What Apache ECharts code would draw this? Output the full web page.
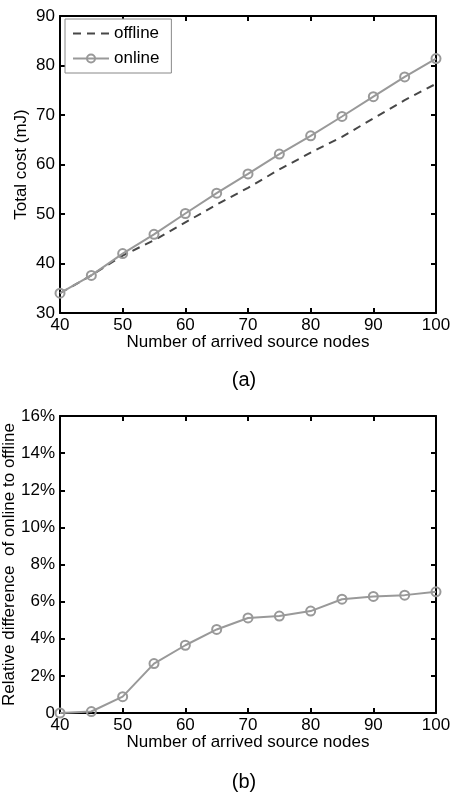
<!DOCTYPE html>
<html>
<head>
<meta charset="utf-8">
<title>Total cost and relative difference</title>
<script src="https://cdn.jsdelivr.net/npm/echarts@6/dist/echarts.min.js"></script>
<style>
  html, body { margin: 0; padding: 0; background: #fff; }
  #chart { width: 456px; height: 792px; }
</style>
</head>
<body>
<div id="chart"></div>
<script>
// Number of arrived source nodes
const nodes = [40, 45, 50, 55, 60, 65, 70, 75, 80, 85, 90, 95, 100];
// Total cost (mJ)
const offlineCost = [34.0, 37.6, 41.6, 44.7, 48.3, 51.9, 55.3, 59.0, 62.4, 65.6, 69.3, 73.0, 76.3];
const onlineCost  = [34.0, 37.6, 42.0, 45.9, 50.1, 54.2, 58.1, 62.1, 65.8, 69.7, 73.7, 77.7, 81.4];
// Relative difference of online to offline (%)
const relDiff = [0.0, 0.08, 0.88, 2.66, 3.65, 4.5, 5.12, 5.22, 5.49, 6.13, 6.28, 6.35, 6.53];

const xTicks = { min: 40, max: 100, interval: 10 };
const costTicks = { min: 30, max: 90, interval: 10 };
const diffTicks = { min: 0, max: 16, interval: 2 };

const FONT = 'Liberation Sans, Arial, Helvetica, sans-serif';
const FS = 17;
const pairs = (xs, ys) => xs.map((x, i) => [x, ys[i]]);

const lineAxis = { show: true, onZero: false, lineStyle: { color: '#000', width: 2 } };
const tickIn = { show: true, inside: true, length: 5, lineStyle: { color: '#000', width: 2 } };

function xAxes(gridIndex) {
  return [
    {
      type: 'value', gridIndex, position: 'bottom', ...xTicks,
      axisLine: lineAxis, axisTick: tickIn, splitLine: { show: false },
      axisLabel: { color: '#000', fontSize: FS, fontFamily: FONT, margin: 4 },
      name: 'Number of arrived source nodes', nameLocation: 'middle', nameGap: 21,
      nameMoveOverlap: false,
      nameTextStyle: { color: '#000', fontSize: FS, fontFamily: FONT }
    },
    {
      type: 'value', gridIndex, position: 'top', ...xTicks,
      axisLine: lineAxis, axisTick: tickIn, splitLine: { show: false },
      axisLabel: { show: false }
    }
  ];
}

function yAxes(gridIndex, ticks, name, fmt, nameGap) {
  return [
    {
      type: 'value', gridIndex, position: 'left', ...ticks,
      axisLine: lineAxis, axisTick: tickIn, splitLine: { show: false },
      axisLabel: { color: '#000', fontSize: FS, fontFamily: FONT, margin: 5, formatter: fmt },
      name, nameLocation: 'middle', nameGap, nameMoveOverlap: false,
      nameTextStyle: { color: '#000', fontSize: FS, fontFamily: FONT }
    },
    {
      type: 'value', gridIndex, position: 'right', ...ticks,
      axisLine: lineAxis, axisTick: tickIn, splitLine: { show: false },
      axisLabel: { show: false }
    }
  ];
}

const ONLINE = '#999999';
const OFFLINE = '#474747';

const option = {
  animation: false,
  backgroundColor: '#fff',
  grid: [
    { left: 60, right: 20, top: 16, height: 297, outerBoundsMode: 'none', containLabel: false },
    { left: 60, right: 20, top: 416, height: 297, outerBoundsMode: 'none', containLabel: false }
  ],
  legend: {
    orient: 'vertical', left: 65, top: 19,
    data: [
      { name: 'offline', itemStyle: { opacity: 0 } },
      { name: 'online' }
    ],
    backgroundColor: '#fff', borderColor: '#888', borderWidth: 1,
    padding: [6, 12, 6, 7], itemGap: 8, itemWidth: 36, itemHeight: 10,
    textStyle: { color: '#000', fontSize: FS, fontFamily: FONT }
  },
  xAxis: [...xAxes(0), ...xAxes(1)],
  yAxis: [
    ...yAxes(0, costTicks, 'Total cost (mJ)', '{value}', 30),
    ...yAxes(1, diffTicks, 'Relative difference  of online to offline',
      v => (v === 0 ? '0' : v + '%'), 42)
  ],
  series: [
    {
      name: 'offline', type: 'line', xAxisIndex: 0, yAxisIndex: 0,
      data: pairs(nodes, offlineCost), symbol: 'none',
      lineStyle: { color: OFFLINE, width: 2, type: [8, 6] },
      itemStyle: { color: OFFLINE }, z: 2
    },
    {
      name: 'online', type: 'line', xAxisIndex: 0, yAxisIndex: 0,
      data: pairs(nodes, onlineCost), symbol: 'circle', symbolSize: 9,
      showAllSymbol: true, clip: false,
      lineStyle: { color: ONLINE, width: 2 },
      itemStyle: { color: 'transparent', borderColor: ONLINE, borderWidth: 2 }, z: 3
    },
    {
      name: 'relative', type: 'line', xAxisIndex: 2, yAxisIndex: 2,
      data: pairs(nodes, relDiff), symbol: 'circle', symbolSize: 9,
      showAllSymbol: true, clip: false,
      lineStyle: { color: ONLINE, width: 2 },
      itemStyle: { color: 'transparent', borderColor: ONLINE, borderWidth: 2 }, z: 3
    }
  ],
  graphic: [
    { type: 'text', x: 244, y: 380,
      style: { text: '(a)', fontSize: 20, fontFamily: FONT, fill: '#000',
        align: 'center', verticalAlign: 'middle' } },
    { type: 'text', x: 244, y: 782,
      style: { text: '(b)', fontSize: 20, fontFamily: FONT, fill: '#000',
        align: 'center', verticalAlign: 'middle' } }
  ]
};

const chart = echarts.init(document.getElementById('chart'), null, { renderer: 'canvas' });
chart.setOption(option);
</script>
</body>
</html>
